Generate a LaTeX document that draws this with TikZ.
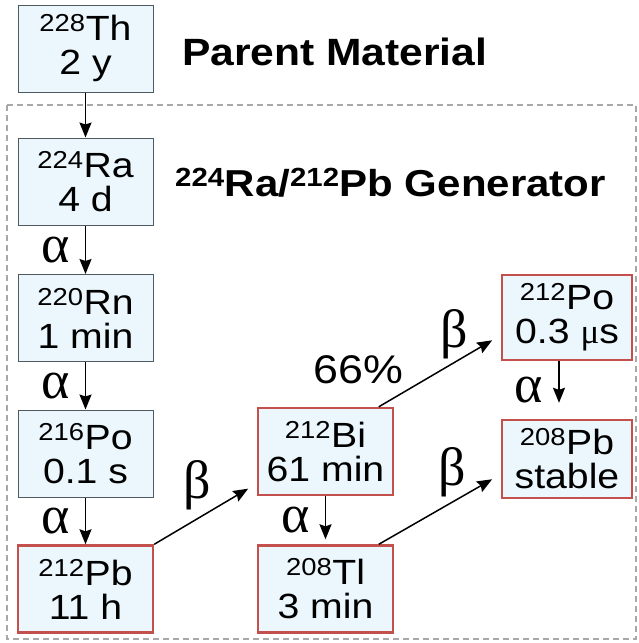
\documentclass[tikz,border=0pt]{standalone}
\usepackage{fontspec}
\setmainfont{Liberation Sans}[FakeStretch=1.12]
\newfontfamily\grk{Liberation Serif}
\usepackage{tikz}
\usetikzlibrary{arrows.meta}
\usepackage{xcolor}
\definecolor{boxfill}{HTML}{EBF7FC}
\definecolor{boxgray}{HTML}{4D5A60}
\definecolor{boxred}{HTML}{C4504D}
\definecolor{framegray}{HTML}{A8A8A8}

\begin{document}
\begin{tikzpicture}[x=1pt, y=-1pt,
    iso/.style={draw=boxgray, fill=boxfill, line width=1pt, minimum width=135pt, minimum height=87pt,
        inner sep=0pt, align=center, font=\fontsize{35}{34}\selectfont},
    gen/.style={iso, draw=boxred, line width=2.4pt},
    decay/.style={-{Stealth[length=15pt,width=12pt,inset=2pt]}, line width=1.5pt},
    lbl/.style={font=\grk\fontsize{54}{54}\selectfont, inner sep=1pt},
    alab/.style={lbl, midway, left=14pt}]
    \useasboundingbox (0,0) rectangle (638,643);

    % Generator frame
    \draw[draw=framegray, line width=1.3pt, dash pattern=on 6pt off 4pt] (7,105) rectangle (636,639);

    % Titles
    \node[anchor=base west, inner sep=0pt, font=\bfseries\fontsize{38}{38}\selectfont] (parent) at (182,65) {Parent Material};
    \node[anchor=base west, inner sep=0pt, font=\bfseries\fontsize{37.5}{37.5}\selectfont] (generator) at (175,196)
        {\textsuperscript{224}Ra/\textsuperscript{212}Pb Generator};

    % Th-228 chain, left column
    \node[iso] (th228) at (85.5,48.5) {\textsuperscript{228}Th\\2 y};
    \node[iso] (ra224) at (85.5,181.5) {\textsuperscript{224}Ra\\4 d};
    \node[iso] (rn220) at (85.5,318) {\textsuperscript{220}Rn\\1 min};
    \node[iso] (po216) at (85.5,453.5) {\textsuperscript{216}Po\\0.1 s};
    \node[gen] (pb212) at (85.5,589) {\textsuperscript{212}Pb\\11 h};

    % Bi-212 branch
    \node[gen] (bi212) at (325.5,451.5) {\textsuperscript{212}Bi\\61 min};
    \node[gen] (tl208) at (325.5,589) {\textsuperscript{208}Tl\\3 min};

    % Po-212 and end product
    \node[gen, minimum width=130pt, minimum height=85pt] (po212) at (567,317.5) {\textsuperscript{212}Po\\0.3 {\grk μ}s};
    \node[gen, minimum width=130pt, minimum height=78pt] (pb208) at (567,459) {\textsuperscript{208}Pb\\stable};

    % Decays
    \draw[decay] (th228) -- (ra224);
    \draw[decay] (ra224) -- (rn220) node[alab] {α};
    \draw[decay] (rn220) -- (po216) node[alab] {α};
    \draw[decay] (po216) -- (pb212) node[alab] {α};
    \draw[decay, shorten >=10pt] (pb212.north east) -- (bi212.-155)
        node[lbl, midway, above, xshift=-8pt, yshift=2pt] {β};
    \draw[decay, shorten >=5pt] (bi212) -- (tl208) node[alab] {α};
    \draw[decay, shorten >=10pt] (bi212.40) -- (po212.-165)
        node[lbl, pos=0.62, above, yshift=2pt] {β}
        node[pos=0.15, above left, xshift=10pt, yshift=8pt, font=\fontsize{40}{40}\selectfont] {66\%};
    \draw[decay, shorten >=10pt] (tl208.40) -- (pb208.-167)
        node[lbl, pos=0.6, above, yshift=4pt] {β};
    \draw[decay, shorten >=16pt] ([xshift=-8pt]po212.south) -- ([xshift=-8pt]po212.south |- pb208.north)
        node[alab] {α};
\end{tikzpicture}
\end{document}
